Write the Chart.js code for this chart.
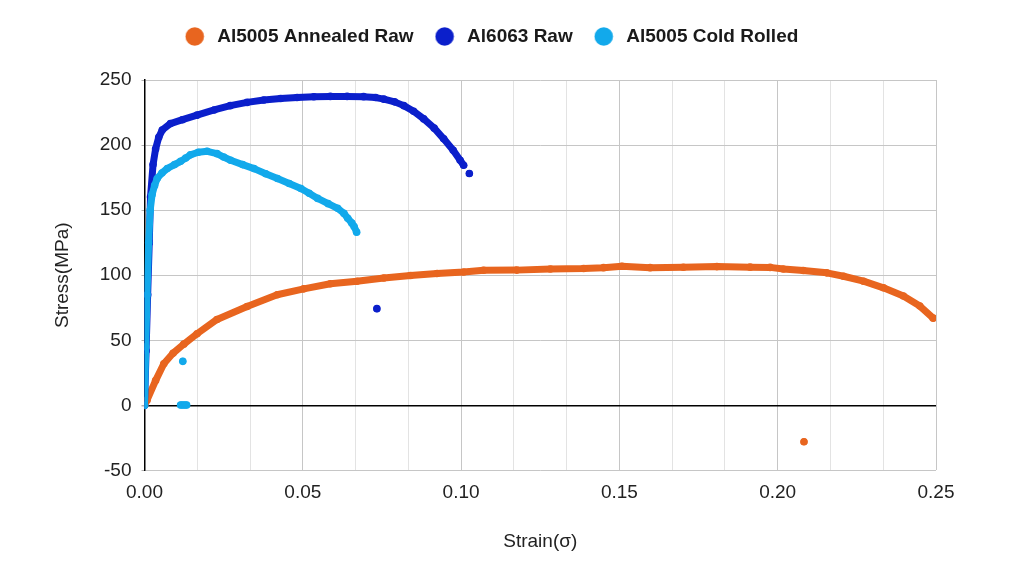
<!DOCTYPE html>
<html>
<head>
<meta charset="utf-8">
<script src="https://cdn.jsdelivr.net/npm/chart.js@4/dist/chart.umd.min.js"></script>
<style>
  html, body { margin: 0; padding: 0; background: #ffffff; }
  #wrap { width: 1024px; height: 576px; }
</style>
</head>
<body>
<div id="wrap"><canvas id="c" width="1024" height="576"></canvas></div>
<script>
// ---- Data ----
const seriesNames = ["Al5005 Annealed Raw", "Al6063 Raw", "Al5005 Cold Rolled"];

// Al5005 Annealed Raw (strain, stress MPa); null breaks the line before the stray point
const annealedStrain = [0, 0.0008, 0.0035, 0.0061, 0.0090, 0.0124, 0.0166, 0.0229, 0.0324, 0.0419, 0.0503, 0.0587, 0.0671, 0.0756, 0.0840, 0.0924, 0.1008, 0.1071, 0.1176, 0.1282, 0.1387, 0.1450, 0.1508, 0.1597, 0.1702, 0.1808, 0.1913, 0.1976, 0.2018, 0.2081, 0.2155, 0.2208, 0.2271, 0.2334, 0.2397, 0.2449, 0.2491, null, 0.2083];
const annealedStress = [0, 4, 19, 32, 40, 47, 55, 66, 76, 85, 89.5, 93.4, 95.4, 97.9, 99.8, 101.3, 102.5, 103.8, 103.9, 104.8, 105.2, 105.8, 106.9, 105.8, 106.1, 106.6, 106.2, 106, 104.8, 103.6, 101.8, 99.2, 95.4, 90.3, 84, 76.3, 67, null, -28];

// Al6063 Raw
const al6063Strain = [0, 0.0005, 0.0010, 0.0015, 0.0019, 0.0027, 0.0035, 0.0045, 0.0056, 0.0082, 0.0120, 0.0166, 0.0220, 0.0271, 0.0324, 0.0377, 0.0430, 0.0482, 0.0535, 0.0587, 0.0640, 0.0692, 0.0730, 0.0756, 0.0790, 0.0819, 0.0850, 0.0882, 0.0915, 0.0945, 0.0975, 0.0997, 0.1008, null, 0.1026, null, 0.0734];
const al6063Stress = [0, 42, 85, 125, 160, 185, 197, 206, 211.5, 216.5, 219.5, 223, 227, 230.3, 232.8, 234.6, 235.8, 236.6, 237.1, 237.4, 237.4, 237.2, 236.5, 235.3, 233.2, 230.3, 226, 220.1, 213, 204.8, 196, 188.3, 184.5, null, 178.1, null, 74.3];

// Al5005 Cold Rolled
const coldStrain = [0, 0.0004, 0.0008, 0.0013, 0.0018, 0.0024, 0.0032, 0.0040, 0.0055, 0.0072, 0.0095, 0.0114, 0.0130, 0.0145, 0.0170, 0.0198, 0.0229, 0.0250, 0.0272, 0.0310, 0.0346, 0.0383, 0.0420, 0.0457, 0.0494, 0.0520, 0.0547, 0.0580, 0.0610, 0.0630, 0.0642, 0.0655, 0.0662, 0.0670, null, 0.0121, null, 0.0114, 0.0120, 0.0127, 0.0133];
const coldStress = [0, 45, 85, 125, 150, 162, 169, 174.3, 178.5, 182, 185, 187.5, 190, 192.5, 194.5, 195.2, 193.4, 190.8, 188.3, 185, 181.9, 178, 174.3, 170.5, 166.6, 163, 159, 155, 151.4, 147.5, 143.7, 140, 137.4, 133.1, null, 33.8, null, 0.3, 0.3, 0.3, 0.3];

// Axis tick labels
const xTickLabels = ["0.00", "0.05", "0.10", "0.15", "0.20", "0.25"];
const yTickLabels = ["-50", "0", "50", "100", "150", "200", "250"];

// ---- Build datasets ----
function pts(xs, ys) {
  return xs.map((x, i) => (x === null || ys[i] === null) ? { x: null, y: null } : { x: x, y: ys[i] });
}
const colors = ["#E8651F", "#0B1FCB", "#12A9EB"];
const sets = [
  { label: seriesNames[0], data: pts(annealedStrain, annealedStress), order: 3 },
  { label: seriesNames[1], data: pts(al6063Strain, al6063Stress), order: 2 },
  { label: seriesNames[2], data: pts(coldStrain, coldStress), order: 1 }
].map((d, i) => Object.assign(d, {
  showLine: true,
  spanGaps: false,
  tension: 0,
  borderColor: colors[i],
  backgroundColor: colors[i],
  pointBackgroundColor: colors[i],
  pointBorderWidth: 0,
  pointRadius: 3.8,
  borderWidth: 7,
  borderCapStyle: 'round',
  borderJoinStyle: 'round'
}));

// legend marker: circle drawn on a small canvas, offset so the gap to the text matches
function legendDot(color) {
  const c = document.createElement('canvas');
  c.width = 27; c.height = 19;
  const g = c.getContext('2d');
  g.fillStyle = color;
  g.beginPath();
  g.arc(10, 9.5, 9.3, 0, Math.PI * 2);
  g.fill();
  return c;
}
const dots = colors.map(legendDot);

const legendSpacer = {
  id: 'legendSpacer',
  beforeInit(chart) {
    const orig = chart.legend.fit;
    chart.legend.fit = function () {
      orig.bind(chart.legend)();
      this.height = 78;
    };
  }
};

const FONT = "'Liberation Sans', Arial, sans-serif";
const XSTEP = 0.05 / 3;

new Chart(document.getElementById('c'), {
  type: 'scatter',
  data: { datasets: sets },
  plugins: [legendSpacer],
  options: {
    responsive: false,
    animation: false,
    devicePixelRatio: 1,
    layout: { padding: { left: 51, right: 88, top: 2, bottom: 23 } },
    plugins: {
      tooltip: { enabled: false },
      legend: {
        position: 'top',
        align: 'center',
        labels: {
          usePointStyle: true,
          boxWidth: 19,
          boxHeight: 13,
          padding: 25,
          color: '#1a1a1a',
          font: { family: FONT, size: 19, weight: 'bold' },
          sort: (a, b) => a.datasetIndex - b.datasetIndex,
          generateLabels: function (chart) {
            const items = Chart.defaults.plugins.legend.labels.generateLabels(chart);
            items.forEach(it => { it.pointStyle = dots[it.datasetIndex]; });
            return items;
          }
        }
      }
    },
    scales: {
      x: {
        type: 'linear',
        min: 0,
        max: 0.25,
        ticks: {
          stepSize: XSTEP,
          autoSkip: false,
          maxRotation: 0,
          padding: 11,
          color: '#222',
          font: { family: FONT, size: 19 },
          callback: function (v, i) {
            return i % 3 === 0 ? xTickLabels[i / 3] : '';
          }
        },
        grid: {
          drawTicks: false,
          color: ctx => (ctx.index % 3 === 0 ? '#c6c6c6' : '#e3e3e3'),
          lineWidth: 1
        },
        border: { display: false },
        title: {
          display: true,
          text: 'Strain(σ)',
          color: '#222',
          font: { family: FONT, size: 19 },
          padding: { top: 15, bottom: 0 }
        }
      },
      y: {
        type: 'linear',
        min: -50,
        max: 250,
        ticks: {
          stepSize: 50,
          padding: 10,
          color: '#222',
          font: { family: FONT, size: 19 },
          callback: function (v, i) { return yTickLabels[i]; }
        },
        grid: {
          drawTicks: true,
          tickLength: 3,
          tickColor: '#b0b0b0',
          color: ctx => (ctx.tick && ctx.tick.value === 0 ? '#000000' : '#c6c6c6'),
          lineWidth: ctx => (ctx.tick && ctx.tick.value === 0 ? 1.5 : 1)
        },
        border: { display: true, color: '#000000', width: 1.5 },
        title: {
          display: true,
          text: 'Stress(MPa)',
          color: '#222',
          font: { family: FONT, size: 19 },
          padding: { top: 0, bottom: 16 }
        }
      }
    }
  }
});
</script>
</body>
</html>
